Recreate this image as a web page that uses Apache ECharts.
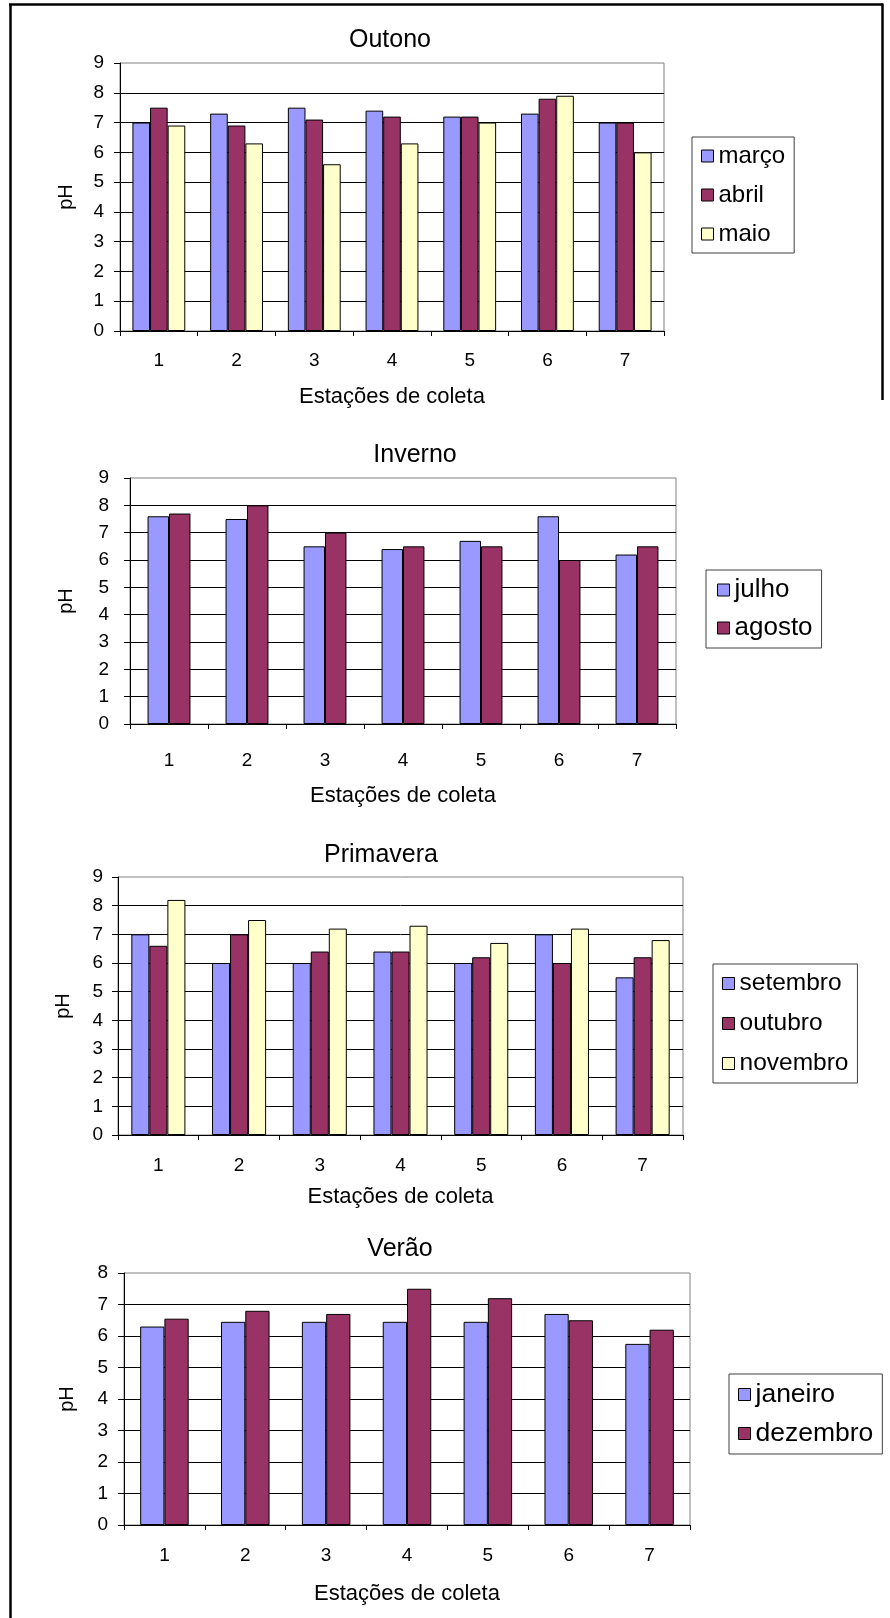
<!DOCTYPE html>
<html>
<head>
<meta charset="utf-8">
<script src="https://cdn.jsdelivr.net/npm/echarts@6/dist/echarts.min.js"></script>
<style>
  html, body { margin: 0; padding: 0; background: #ffffff; }
  #chart { width: 890px; height: 1618px; }
</style>
</head>
<body>
<div id="chart"></div>
<script>
// ---- data ----
const categories = ['1', '2', '3', '4', '5', '6', '7'];

const outonoMarco = [7.0, 7.3, 7.5, 7.4, 7.2, 7.3, 7.0];
const outonoAbril = [7.5, 6.9, 7.1, 7.2, 7.2, 7.8, 7.0];
const outonoMaio  = [6.9, 6.3, 5.6, 6.3, 7.0, 7.9, 6.0];

const invernoJulho  = [7.6, 7.5, 6.5, 6.4, 6.7, 7.6, 6.2];
const invernoAgosto = [7.7, 8.0, 7.0, 6.5, 6.5, 6.0, 6.5];

const primaveraSetembro = [7.0, 6.0, 6.0, 6.4, 6.0, 7.0, 5.5];
const primaveraOutubro  = [6.6, 7.0, 6.4, 6.4, 6.2, 6.0, 6.2];
const primaveraNovembro = [8.2, 7.5, 7.2, 7.3, 6.7, 7.2, 6.8];

const veraoJaneiro  = [6.3, 6.45, 6.45, 6.45, 6.45, 6.7, 5.75];
const veraoDezembro = [6.55, 6.8, 6.7, 7.5, 7.2, 6.5, 6.2];

const titles = ['Outono', 'Inverno', 'Primavera', 'Verão'];
const yMax = [9, 9, 9, 8];
const xAxisName = 'Estações de coleta';
const yAxisName = 'pH';

// ---- styling / layout ----
const FONT = "'Liberation Sans', Arial, sans-serif";
const BLUE = '#9999FF', MAROON = '#993366', YELLOW = '#FFFFCC';

const panels = [
  { grid: { left: 120, top: 63, width: 544, height: 268 },
    titleX: 390, titleTop: 28, legend: { left: 692, top: 137, font: 24, gap: 15, pad: [7, 9, 7, 9] },
    gap: '32%', yNameGap: 44, yLabelMargin: 16, xLabelMargin: 20, xNameGap: 55 },
  { grid: { left: 130, top: 478, width: 546, height: 246 },
    titleX: 415, titleTop: 443, legend: { left: 706, top: 570, font: 26, gap: 12, pad: [7, 9, 7, 11] },
    gap: '45%', yNameGap: 54, yLabelMargin: 21, xLabelMargin: 27, xNameGap: 61 },
  { grid: { left: 118, top: 877, width: 565, height: 258 },
    titleX: 381, titleTop: 843, legend: { left: 713, top: 964, font: 24.5, gap: 15, pad: [7, 9, 7, 9] },
    gap: '33%', yNameGap: 45, yLabelMargin: 15, xLabelMargin: 21, xNameGap: 51 },
  { grid: { left: 124, top: 1273, width: 566, height: 252 },
    titleX: 400, titleTop: 1237, legend: { left: 729, top: 1374, font: 26.5, gap: 12, pad: [7, 9, 7, 9] },
    gap: '40%', yNameGap: 47, yLabelMargin: 16, xLabelMargin: 21, xNameGap: 58 }
];

const seriesSets = [
  [ ['março', outonoMarco, BLUE], ['abril', outonoAbril, MAROON], ['maio', outonoMaio, YELLOW] ],
  [ ['julho', invernoJulho, BLUE], ['agosto', invernoAgosto, MAROON] ],
  [ ['setembro', primaveraSetembro, BLUE], ['outubro', primaveraOutubro, MAROON], ['novembro', primaveraNovembro, YELLOW] ],
  [ ['janeiro', veraoJaneiro, BLUE], ['dezembro', veraoDezembro, MAROON] ]
];

const option = {
  backgroundColor: '#ffffff',
  animation: false,
  title: [], grid: [], xAxis: [], yAxis: [], legend: [], series: [],
  graphic: [
    { type: 'line', shape: { x1: 10.5, y1: 4.5, x2: 10.5, y2: 1618 }, style: { stroke: '#000', lineWidth: 2.5 } },
    { type: 'line', shape: { x1: 9, y1: 4.5, x2: 883, y2: 4.5 }, style: { stroke: '#000', lineWidth: 2.5 } },
    { type: 'line', shape: { x1: 882.5, y1: 3.5, x2: 882.5, y2: 400 }, style: { stroke: '#000', lineWidth: 2.5 } }
  ]
};

panels.forEach((p, i) => {
  option.grid.push(Object.assign({ show: true, borderColor: '#808080', borderWidth: 1, backgroundColor: '#ffffff' }, p.grid));
  option.title.push({
    text: titles[i], left: p.titleX, top: p.titleTop, textAlign: 'center', padding: 0,
    textStyle: { fontFamily: FONT, fontSize: 25, fontWeight: 'normal', color: '#000' }
  });
  option.xAxis.push({
    type: 'category', gridIndex: i, data: categories,
    name: xAxisName, nameLocation: 'middle', nameGap: p.xNameGap,
    nameTextStyle: { fontFamily: FONT, fontSize: 22, color: '#000' },
    axisLine: { lineStyle: { color: '#000', width: 1 } },
    axisTick: { show: true, length: 5, lineStyle: { color: '#000' } },
    axisLabel: { fontFamily: FONT, fontSize: 19, color: '#000', margin: p.xLabelMargin },
    splitLine: { show: false }
  });
  option.yAxis.push({
    type: 'value', gridIndex: i, min: 0, max: yMax[i], interval: 1,
    name: yAxisName, nameLocation: 'middle', nameGap: p.yNameGap,
    nameTextStyle: { fontFamily: FONT, fontSize: 20, color: '#000' },
    axisLine: { show: true, lineStyle: { color: '#000', width: 1 } },
    axisTick: { show: true, length: 6, lineStyle: { color: '#000' } },
    axisLabel: { fontFamily: FONT, fontSize: 19, color: '#000', margin: p.yLabelMargin },
    splitLine: { show: true, showMaxLine: false, lineStyle: { color: '#000', width: 1 } }
  });
  const names = seriesSets[i].map(s => s[0]);
  option.legend.push({
    data: names, orient: 'vertical', left: p.legend.left, top: p.legend.top,
    padding: p.legend.pad, itemGap: p.legend.gap, itemWidth: 12, itemHeight: 12, itemTextGap: 5,
    icon: 'rect', borderColor: '#404040', borderWidth: 1, backgroundColor: '#ffffff',
    itemStyle: { borderColor: '#000', borderWidth: 1 },
    textStyle: { fontFamily: FONT, fontSize: p.legend.font, color: '#000' },
    selectedMode: false
  });
  seriesSets[i].forEach(([name, data, color]) => {
    option.series.push({
      type: 'bar', name, data, xAxisIndex: i, yAxisIndex: i,
      barGap: '0%', barCategoryGap: p.gap,
      itemStyle: { color, borderColor: '#000', borderWidth: 1 },
      emphasis: { disabled: true }
    });
  });
});

const chart = echarts.init(document.getElementById('chart'), null, { renderer: 'canvas' });
chart.setOption(option);
</script>
</body>
</html>
